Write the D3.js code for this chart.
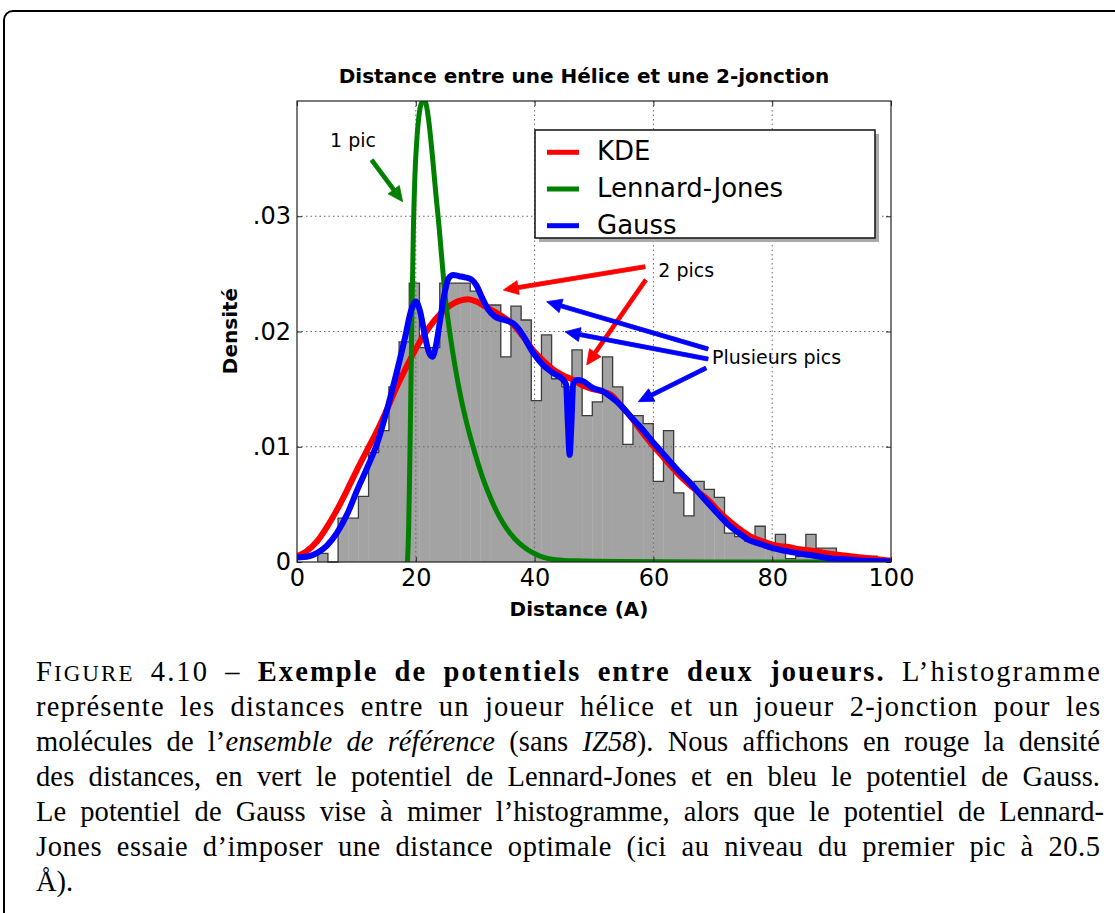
<!DOCTYPE html>
<html>
<head>
<meta charset="utf-8">
<script src="https://cdn.jsdelivr.net/npm/d3@7"></script>
<style>
  body { margin: 0; background: #fff; }
</style>
</head>
<body>
<svg id="fig" width="1115" height="913"></svg>
<script>
// histogram of distances (density per bin), bins of equal width
var binStart = 3.49;
var binWidth = 1.712;
var histValues = [0.00075, 0, 0.0038, 0.0038, 0.0057, 0.0095, 0.0114, 0.0152, 0.0191, 0.0242,
  0.0186, 0.0186, 0.0242, 0.0242, 0.0242, 0.0235, 0.0223, 0.0223, 0.0178, 0.0222,
  0.0210, 0.0140, 0.0197, 0.0159, 0.0152, 0.0184, 0.0127, 0.0139, 0.0178, 0.0152,
  0.0102, 0.0127, 0.0120, 0.0070, 0.0114, 0.0060, 0.0040, 0.0070, 0.0063, 0.0056,
  0.0025, 0.0022, 0.0018, 0.0031, 0.0012, 0.0024, 0.0003, 0.0005, 0.0024, 0.0012,
  0.0012, 0.0003, 0.0003, 0.0001, 0.0005];

// KDE curve [distance, density]
var kde = [[0,0.0005],[1.5,0.0009],[3.4,0.0018],[5,0.003],[6.7,0.0045],[8.4,0.0062],[10.1,0.008],
  [11.8,0.0097],[13.5,0.0114],[15.2,0.0133],[16.8,0.0152],[18.3,0.0168],[19.9,0.0184],[21.5,0.0198],
  [23.2,0.021],[24.9,0.0219],[26.6,0.0225],[28.8,0.0228],[30.2,0.0226],[31.6,0.0222],[33.3,0.0217],
  [34.9,0.0212],[36.4,0.0206],[38,0.0196],[39.7,0.0184],[41.4,0.0175],[43.1,0.0167],[44.8,0.0162],
  [46.5,0.0158],[48.1,0.0153],[49.8,0.0150],[51.4,0.0148],[52.9,0.0145],[54.5,0.0136],[56.2,0.0126],
  [57.9,0.0114],[59.6,0.0103],[61.3,0.0093],[63,0.0083],[64.6,0.0074],[66.3,0.0066],[68,0.0059],
  [69.4,0.0053],[71,0.0044],[72.7,0.0036],[74.4,0.0029],[76.1,0.0023],[77.8,0.0019],[79.5,0.0016],
  [81,0.0014],[82.8,0.0013],[84.5,0.0011],[86.4,0.0010],[90,0.0007],[93.1,0.0005],[96.5,0.0003],[100,0.0001]];

// Lennard-Jones potential
var lennardJones = [[18.6,0],[18.8,0.003],[19.0,0.009],[19.2,0.016],[19.4,0.023],[19.6,0.029],
  [19.85,0.0335],[20.2,0.0368],[20.6,0.0390],[21.0,0.0399],[21.35,0.0401],[21.7,0.0398],[22.2,0.0382],
  [22.8,0.0352],[23.4,0.0318],[23.9,0.0292],[24.4,0.0262],[25.0,0.0228],[25.7,0.0200],[26.6,0.0170],
  [27.7,0.0140],[28.9,0.0114],[30.1,0.0092],[31.4,0.0071],[32.8,0.0053],[34.0,0.0040],[35.3,0.0029],
  [36.7,0.0020],[38.2,0.0013],[39.7,0.0008],[41.5,0.0004],[43.5,0.0002],[47,0.0001],[55,0.00004],
  [70,0.00001],[100,0]];

// Gauss potential
var gauss = [[0,0.0004],[2,0.0005],[3.4,0.0008],[5,0.0014],[6.7,0.0025],[8.5,0.0042],[10.1,0.0062],
  [12,0.0084],[13.5,0.0103],[15.2,0.0133],[16.8,0.0165],[18.2,0.0195],[19.2,0.0218],[20.0,0.0226],
  [20.7,0.0218],[21.5,0.0197],[22.2,0.0182],[22.8,0.0178],[23.4,0.0188],[24.1,0.021],[24.8,0.0232],
  [25.5,0.0246],[26.3,0.0249],[27.3,0.0248],[28.3,0.0247],[29.4,0.0245],[30.2,0.0240],[31.1,0.0230],
  [32.2,0.0219],[33.3,0.0213],[34.9,0.0210],[36.4,0.0207],[37.2,0.0203],[38,0.0197],[39.7,0.0182],
  [41.4,0.0171],[43.1,0.0164],[44.8,0.0158],[45.3,0.0154],[45.6,0.012],[45.9,0.0093],[46.2,0.012],
  [46.5,0.0155],[47.2,0.0158],[48.1,0.0157],[49.8,0.0151],[51.5,0.0148],[52.9,0.0143],[54.5,0.0136],
  [56.2,0.0126],[58,0.0116],[59.6,0.0106],[61.3,0.0096],[63,0.0086],[64.6,0.0077],[66.3,0.0068],
  [68,0.0058],[69.4,0.005],[71,0.0041],[72.7,0.0032],[74.4,0.0025],[76.1,0.0019],[77.8,0.0016],
  [79.5,0.0013],[81,0.0011],[82.8,0.0009],[86.4,0.0006],[90,0.0003],[93.1,0.0002],[96,0.0001],[100,0.00005]];

var xTicks = [0, 20, 40, 60, 80, 100];
var yTicks = [0, 0.01, 0.02, 0.03];
var yTickLabels = ["0", ".01", ".02", ".03"];

var legendLabels = ["KDE", "Lennard-Jones", "Gauss"];
var legendColors = ["#ff0000", "#008000", "#0000ff"];

// annotations, in data units: [tailX, tailY, tipX, tipY]
var annotTexts = [
  {text: "1 pic", x: 5.56, y: 0.0360},
  {text: "2 pics", x: 60.82, y: 0.0247},
  {text: "Plusieurs pics", x: 69.87, y: 0.01718}
];
var greenArrows = [[12.57, 0.03488, 17.79, 0.03126]];
var redArrows = [[58.59, 0.02562, 34.73, 0.02360], [58.71, 0.02447, 48.77, 0.01709]];
var blueArrows = [[69.19, 0.01848, 42.04, 0.02259], [69.19, 0.01761, 45.12, 0.01998], [68.86, 0.01683, 57.46, 0.01391]];

var captionLines = [
  [["F", ""], ["IGURE", "sc"], [" 4.10 – ", ""], ["Exemple de potentiels entre deux joueurs.", "b"], [" L’histogramme", ""]],
  [["représente les distances entre un joueur hélice et un joueur 2-jonction pour les", ""]],
  [["molécules de l’", ""], ["ensemble de référence", "i"], [" (sans ", ""], ["IZ58", "i"], ["). Nous affichons en rouge la densité", ""]],
  [["des distances, en vert le potentiel de Lennard-Jones et en bleu le potentiel de Gauss.", ""]],
  [["Le potentiel de Gauss vise à mimer l’histogramme, alors que le potentiel de Lennard-", ""]],
  [["Jones essaie d’imposer une distance optimale (ici au niveau du premier pic à 20.5", ""]],
  [["Å).", ""]]
];

var svg = d3.select("#fig");

// page frame
svg.append("rect")
  .attr("x", 4).attr("y", 11)
  .attr("width", 1300).attr("height", 1200)
  .attr("rx", 9)
  .attr("fill", "none")
  .attr("stroke", "#000")
  .attr("stroke-width", 2);

var plot = {left: 297, right: 891, top: 101, bottom: 562};

var x = d3.scaleLinear().domain([0, 100]).range([plot.left, plot.right]);
var y = d3.scaleLinear().domain([0, 0.04]).range([plot.bottom, plot.top]);

svg.append("clipPath").attr("id", "clip")
  .append("rect")
  .attr("x", plot.left).attr("y", plot.top)
  .attr("width", plot.right - plot.left).attr("height", plot.bottom - plot.top);

// histogram
var bins = histValues.map(function(v, i) {
  return {x0: binStart + i * binWidth, x1: binStart + (i + 1) * binWidth, h: v};
});

svg.append("g").selectAll("rect")
  .data(bins)
  .enter()
  .append("rect")
  .attr("x", function(d) { return x(d.x0); })
  .attr("width", function(d) { return x(d.x1) - x(d.x0) + 0.3; })
  .attr("y", function(d) { return y(d.h); })
  .attr("height", function(d) { return y(0) - y(d.h); })
  .attr("fill", "#a3a3a3");

var stepPts = [[bins[0].x0, 0]];
bins.forEach(function(b) { stepPts.push([b.x0, b.h]); });
stepPts.push([bins[bins.length - 1].x1, 0]);

svg.append("path")
  .attr("d", d3.line()
    .x(function(d) { return x(d[0]); })
    .y(function(d) { return y(d[1]); })
    .curve(d3.curveStepAfter)(stepPts))
  .attr("fill", "none")
  .attr("stroke", "#3c3c3c")
  .attr("stroke-width", 1.3);

// grid
var grid = svg.append("g").attr("stroke", "#666").attr("stroke-width", 1).attr("stroke-dasharray", "1.5,3");
grid.selectAll(".gx").data(xTicks.slice(1, -1)).enter().append("line")
  .attr("x1", function(d) { return x(d); }).attr("x2", function(d) { return x(d); })
  .attr("y1", plot.top).attr("y2", plot.bottom);
grid.selectAll(".gy").data(yTicks.slice(1)).enter().append("line")
  .attr("y1", function(d) { return y(d); }).attr("y2", function(d) { return y(d); })
  .attr("x1", plot.left).attr("x2", plot.right);

// curves
var line = d3.line()
  .x(function(d) { return x(d[0]); })
  .y(function(d) { return y(d[1]); })
  .curve(d3.curveMonotoneX);

var curves = svg.append("g").attr("clip-path", "url(#clip)")
  .attr("fill", "none").attr("stroke-linejoin", "round").attr("stroke-linecap", "round");
curves.append("path").attr("d", line(kde)).attr("stroke", legendColors[0]).attr("stroke-width", 6);
curves.append("path").attr("d", line(lennardJones)).attr("stroke", legendColors[1]).attr("stroke-width", 5);
curves.append("path").attr("d", line(gauss)).attr("stroke", legendColors[2]).attr("stroke-width", 6);

// frame
svg.append("rect")
  .attr("x", plot.left).attr("y", plot.top)
  .attr("width", plot.right - plot.left).attr("height", plot.bottom - plot.top)
  .attr("fill", "none").attr("stroke", "#222").attr("stroke-width", 1.2);

// axes (ticks pointing inward)
var tickFont = "'DejaVu Sans', sans-serif";

svg.append("g")
  .attr("transform", "translate(0," + plot.bottom + ")")
  .call(d3.axisBottom(x).tickValues(xTicks).tickSizeInner(-5).tickSizeOuter(0).tickPadding(7));
svg.append("g")
  .attr("transform", "translate(" + plot.left + ",0)")
  .call(d3.axisLeft(y).tickValues(yTicks).tickSizeInner(-5).tickSizeOuter(0).tickPadding(6)
    .tickFormat(function(d, i) { return yTickLabels[i]; }));
svg.append("g")
  .attr("transform", "translate(0," + plot.top + ")")
  .call(d3.axisTop(x).tickValues(xTicks).tickSizeInner(-5).tickSizeOuter(0).tickFormat(""));
svg.append("g")
  .attr("transform", "translate(" + plot.right + ",0)")
  .call(d3.axisRight(y).tickValues(yTicks).tickSizeInner(-5).tickSizeOuter(0).tickFormat(""));

svg.selectAll(".domain").remove();
svg.selectAll(".tick line").attr("stroke", "#222");
svg.selectAll(".tick text").attr("font-family", tickFont).attr("font-size", 24).attr("fill", "#000");

// titles
svg.append("text")
  .attr("x", 584).attr("y", 83)
  .attr("text-anchor", "middle")
  .attr("font-family", tickFont)
  .attr("font-weight", "bold")
  .attr("font-size", 20)
  .text("Distance entre une Hélice et une 2-jonction");

svg.append("text")
  .attr("transform", "translate(237,331) rotate(-90)")
  .attr("text-anchor", "middle")
  .attr("font-family", tickFont)
  .attr("font-weight", "bold")
  .attr("font-size", 20)
  .text("Densité");

svg.append("text")
  .attr("x", 579).attr("y", 616)
  .attr("text-anchor", "middle")
  .attr("font-family", tickFont)
  .attr("font-weight", "bold")
  .attr("font-size", 20)
  .text("Distance (A)");

// legend
var lg = svg.append("g").attr("transform", "translate(535,130)");
lg.append("rect").attr("x", 4).attr("y", 4).attr("width", 340).attr("height", 108).attr("fill", "#aaa");
lg.append("rect").attr("width", 340).attr("height", 108).attr("fill", "#fff").attr("stroke", "#111").attr("stroke-width", 1.5);
legendLabels.forEach(function(lab, i) {
  var ly = 22.3 + i * 36.7;
  lg.append("line").attr("x1", 12).attr("x2", 44).attr("y1", ly).attr("y2", ly)
    .attr("stroke", legendColors[i]).attr("stroke-width", 5);
  lg.append("text").attr("x", 62).attr("y", ly + 8)
    .attr("font-family", tickFont).attr("font-size", 26).text(lab);
});

// annotations
function arrow(a, color) {
  var x0 = x(a[0]), y0 = y(a[1]), x1 = x(a[2]), y1 = y(a[3]);
  var dx = x1 - x0, dy = y1 - y0, len = Math.sqrt(dx * dx + dy * dy);
  var ux = dx / len, uy = dy / len, nx = -uy, ny = ux;
  var sw = 2, hl = 15, hw = 7;
  var bx = x1 - ux * hl, by = y1 - uy * hl;
  var pts = [
    [x0 + nx * sw, y0 + ny * sw], [bx + nx * sw, by + ny * sw], [bx + nx * hw, by + ny * hw],
    [x1, y1], [bx - nx * hw, by - ny * hw], [bx - nx * sw, by - ny * sw], [x0 - nx * sw, y0 - ny * sw]
  ];
  svg.append("polygon").attr("points", pts.map(function(p) { return p.join(","); }).join(" "))
    .attr("fill", color).attr("stroke", color).attr("stroke-width", 0.8).attr("stroke-linejoin", "round");
}
greenArrows.forEach(function(a) { arrow(a, legendColors[1]); });
redArrows.forEach(function(a) { arrow(a, legendColors[0]); });
blueArrows.forEach(function(a) { arrow(a, legendColors[2]); });

annotTexts.forEach(function(t) {
  svg.append("text").attr("x", x(t.x)).attr("y", y(t.y))
    .attr("font-family", tickFont).attr("font-size", 19).text(t.text);
});

// caption, justified: stretch the word spaces, and put what is left into letter spacing
var capY = [681, 716, 751, 786, 821, 856, 891];
captionLines.forEach(function(segs, i) {
  var t = svg.append("text")
    .attr("x", 36).attr("y", capY[i])
    .attr("font-family", "'Liberation Serif', 'Times New Roman', serif")
    .attr("font-size", 28.5);
  segs.forEach(function(s) {
    var ts = t.append("tspan").text(s[0]);
    if (s[1] == "b") ts.attr("font-weight", "bold");
    if (s[1] == "i") ts.attr("font-style", "italic");
    if (s[1] == "sc") ts.attr("font-size", 23);
  });
  if (i < captionLines.length - 1) {
    var target = i == 4 ? 1068 : 1064;
    var w = t.node().getComputedTextLength();
    var full = segs.map(function(s) { return s[0]; }).join("");
    var nSpaces = full.split(" ").length - 1;
    var extra = target - w;
    var ws = Math.min(extra / nSpaces, 7);
    var ls = (extra - ws * nSpaces) / (full.length - 1);
    t.attr("word-spacing", ws).attr("letter-spacing", ls);
  }
});
</script>
</body>
</html>
